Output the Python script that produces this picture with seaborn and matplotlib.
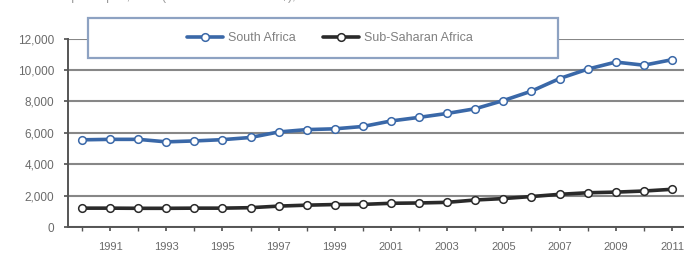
import matplotlib
matplotlib.use("Agg")
import matplotlib.pyplot as plt
import seaborn as sns
import pandas as pd
from matplotlib.patches import Rectangle
from matplotlib.ticker import FuncFormatter, MultipleLocator

years = list(range(1990, 2012))
south_africa = [5550, 5580, 5580, 5420, 5480, 5560, 5700, 6050, 6200, 6250,
                6400, 6750, 6980, 7230, 7530, 8050, 8650, 9450, 10050, 10500,
                10300, 10650]
sub_saharan = [1200, 1200, 1190, 1190, 1200, 1200, 1230, 1330, 1390, 1430,
               1440, 1510, 1530, 1570, 1720, 1810, 1940, 2080, 2180, 2220,
               2290, 2400]
series_names = ["South Africa", "Sub-Saharan Africa"]
tick_years = list(range(1991, 2012, 2))
title_text = "GDP per capita, PPP (current international $), 1990-2011"

df = pd.DataFrame({
    "year": years * 2,
    "value": south_africa + sub_saharan,
    "series": [series_names[0]] * len(years) + [series_names[1]] * len(years),
})

sns.set_theme(style="white")
plt.rcParams["font.family"] = ["Liberation Sans", "DejaVu Sans"]

W, H = 684, 254
fig = plt.figure(figsize=(W / 100, H / 100), dpi=100)
ax = fig.add_axes([68 / W, 27 / H, 618 / W, 188.5 / H])

colors = {"South Africa": "#3a68a8", "Sub-Saharan Africa": "#2a2a2a"}
for name in series_names:
    sub = df[df["series"] == name]
    sns.lineplot(data=sub, x="year", y="value", ax=ax, color=colors[name],
                 linewidth=2.6, marker="o", markersize=5.5,
                 markerfacecolor="white", markeredgecolor=colors[name],
                 markeredgewidth=1.1, label=name, legend=False, zorder=3)

ax.set_xlim(1989.5, 2011.5)
ax.set_ylim(0, 12000)
ax.yaxis.set_major_locator(MultipleLocator(2000))
ax.yaxis.set_major_formatter(FuncFormatter(lambda v, p: f"{int(v):,}"))
ax.set_xticks(tick_years)
ax.set_xticklabels([str(y) for y in tick_years])
ax.set_xticks(years, minor=True)
ax.set_xlabel("")
ax.set_ylabel("")

ax.grid(axis="y", color="#878787", linewidth=1.5)
ax.grid(axis="x", visible=False)
for s in ["top", "right"]:
    ax.spines[s].set_visible(False)
for s in ["left", "bottom"]:
    ax.spines[s].set_color("#555555")
    ax.spines[s].set_linewidth(1.4)

ax.tick_params(axis="y", labelsize=8.5, labelcolor="#6a6a6a", length=3,
               color="#555555", left=True, pad=7)
ax.tick_params(axis="x", which="major", labelsize=8, labelcolor="#6a6a6a",
               length=3, color="#555555", bottom=True, pad=8)
ax.tick_params(axis="x", which="minor", length=3, color="#555555", bottom=True)

# legend box as in the reference
box = Rectangle((88 / W, (H - 58) / H), 470 / W, 40 / H, transform=fig.transFigure,
                facecolor="white", edgecolor="#8da2c2", linewidth=1.6, zorder=4)
fig.add_artist(box)
handles, labels = ax.get_legend_handles_labels()
leg = fig.legend(handles, labels, loc="center", bbox_to_anchor=(330 / W, (H - 38) / H),
                 bbox_transform=fig.transFigure, ncol=2,
                 frameon=False, fontsize=9, handlelength=2.9,
                 handletextpad=0.4, columnspacing=2.2, borderpad=0.3)
leg.set_zorder(6)
for t in leg.get_texts():
    t.set_color("#808080")

fig.text(0.06, 1.012, title_text, fontsize=9, color="#9a9a9a", va="center", ha="left")

fig.savefig("out.png", dpi=100)
